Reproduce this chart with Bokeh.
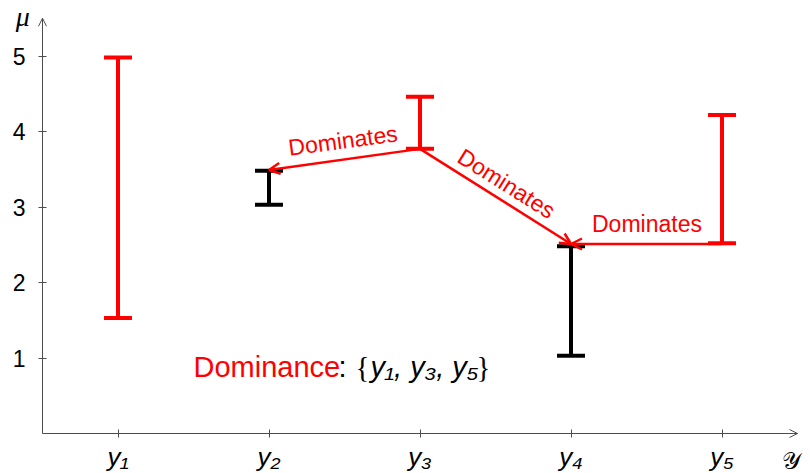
from bokeh.plotting import figure
from bokeh.models import (ColumnDataSource, FixedTicker, Range1d, Arrow, OpenHead, Label)
from bokeh.embed import file_html
from bokeh.resources import INLINE

# ---- data ----
x_pos = [1, 2, 3, 4, 5]
x_labels = ["y\u2081", "y\u2082", "y\u2083", "y\u2084", "y\u2085"]
lows = [1.53, 3.03, 3.77, 1.03, 2.52]
highs = [4.98, 3.48, 4.46, 2.48, 4.22]
dominant = [True, False, True, False, True]
y_ticks = [1, 2, 3, 4, 5]

arrow_from_x = [3, 3, 5]
arrow_from_y = [3.77, 3.77, 2.51]
arrow_to_x = [2, 4, 4]
arrow_to_y = [3.49, 2.51, 2.51]

label_text = ["Dominates", "Dominates", "Dominates"]
label_x = [2.49, 3.573, 4.503]
label_y = [3.88, 3.31, 2.775]
label_angle = [0.133, -0.56, 0.0]

RED = "#ff0000"
AXIS = "#4d4d4d"
FONT = "Liberation Sans"

colors = [RED if d else "black" for d in dominant]
src = ColumnDataSource(dict(x=x_pos, low=lows, high=highs, color=colors))

XPX, YPX = 151.0, 75.5  # pixels per data unit
p = figure(width=810, height=473, output_backend="svg", toolbar_location=None,
           x_range=Range1d(0.5 - 42 / XPX, 0.5 + 768 / XPX),
           y_range=Range1d(-40 / YPX, 433 / YPX),
           min_border_left=0, min_border_right=0, min_border_top=0, min_border_bottom=0)
p.outline_line_color = None
p.grid.visible = False
p.background_fill_color = "white"
p.border_fill_color = "white"

# intervals
p.segment(x0="x", y0="low", x1="x", y1="high", source=src, line_color="color", line_width=4)
p.scatter(x="x", y="low", source=src, marker="dash", size=28, line_color="color", line_width=4)
p.scatter(x="x", y="high", source=src, marker="dash", size=28, line_color="color", line_width=4)

# dominance arrows
asrc = ColumnDataSource(dict(x0=arrow_from_x, y0=arrow_from_y, x1=arrow_to_x, y1=arrow_to_y))
p.add_layout(Arrow(x_start="x0", y_start="y0", x_end="x1", y_end="y1", source=asrc,
                   line_color=RED, line_width=2.5,
                   end=OpenHead(size=11, line_color=RED, line_width=2.5)))

for t, lx, ly, la in zip(label_text, label_x, label_y, label_angle):
    p.add_layout(Label(x=lx, y=ly, text=t, angle=la, text_align="center", text_baseline="middle",
                       text_font=FONT, text_font_size="23px", text_color=RED))

# axes (drawn at fixed data locations inside the frame)
for ax in (p.xaxis[0], p.yaxis[0]):
    ax.axis_line_color = AXIS
    ax.axis_line_width = 1
    ax.major_tick_line_color = AXIS
    ax.major_tick_in = 4
    ax.major_tick_out = 4
    ax.minor_tick_line_color = None
    ax.major_label_text_font = FONT
    ax.major_label_text_color = "black"

p.xaxis.ticker = FixedTicker(ticks=x_pos)
p.xaxis.major_label_overrides = {k: v for k, v in zip(x_pos, x_labels)}
p.xaxis.major_label_text_font_size = "26px"
p.xaxis.major_label_text_font_style = "italic"
p.xaxis.major_label_standoff = 4
p.xaxis.bounds = (0.5, 5.5)
p.xaxis.fixed_location = 0

p.yaxis.ticker = FixedTicker(ticks=y_ticks)
p.yaxis.major_label_text_font_size = "23px"
p.yaxis.major_label_standoff = 13
p.yaxis.bounds = (0, 5.5)
p.yaxis.fixed_location = 0.5

# axis arrow tips
p.add_layout(Arrow(x_start=5.45, y_start=0, x_end=5.5, y_end=0, line_color=AXIS, line_width=1,
                   end=OpenHead(size=8, line_color=AXIS, line_width=1)))
p.add_layout(Arrow(x_start=0.5, y_start=5.4, x_end=0.5, y_end=5.5, line_color=AXIS, line_width=1,
                   end=OpenHead(size=8, line_color=AXIS, line_width=1)))

# axis names
p.add_layout(Label(x=0.37, y=5.52, text="\u03bc", text_align="center", text_baseline="middle",
                   text_font="Liberation Serif", text_font_style="italic", text_font_size="28px",
                   text_color="black"))
p.add_layout(Label(x=5.52, y=-0.36, text="\U0001D4B4", text_align="right", text_baseline="middle",
                   text_font="DejaVu Serif", text_font_size="24px", text_color="black"))

# dominance legend text
p.add_layout(Label(x=1.5, y=0.88, text="Dominance", text_align="left", text_baseline="alphabetic",
                   text_font=FONT, text_font_size="29px", text_color=RED))
p.add_layout(Label(x=2.46, y=0.88, text=":", text_align="left", text_baseline="alphabetic",
                   text_font=FONT, text_font_size="29px", text_color="black"))
p.add_layout(Label(x=2.573, y=0.88, text="{", text_align="left", text_baseline="alphabetic",
                   text_font="Liberation Serif", text_font_size="29px", text_color="black"))
p.add_layout(Label(x=2.672, y=0.88, text="y\u2081, y\u2083, y\u2085", text_align="left",
                   text_baseline="alphabetic", text_font=FONT, text_font_style="italic",
                   text_font_size="29px", text_color="black"))
p.add_layout(Label(x=3.467, y=0.88, text="}", text_align="right", text_baseline="alphabetic",
                   text_font="Liberation Serif", text_font_size="29px", text_color="black"))

open("out.html", "w").write(file_html(p, INLINE))
